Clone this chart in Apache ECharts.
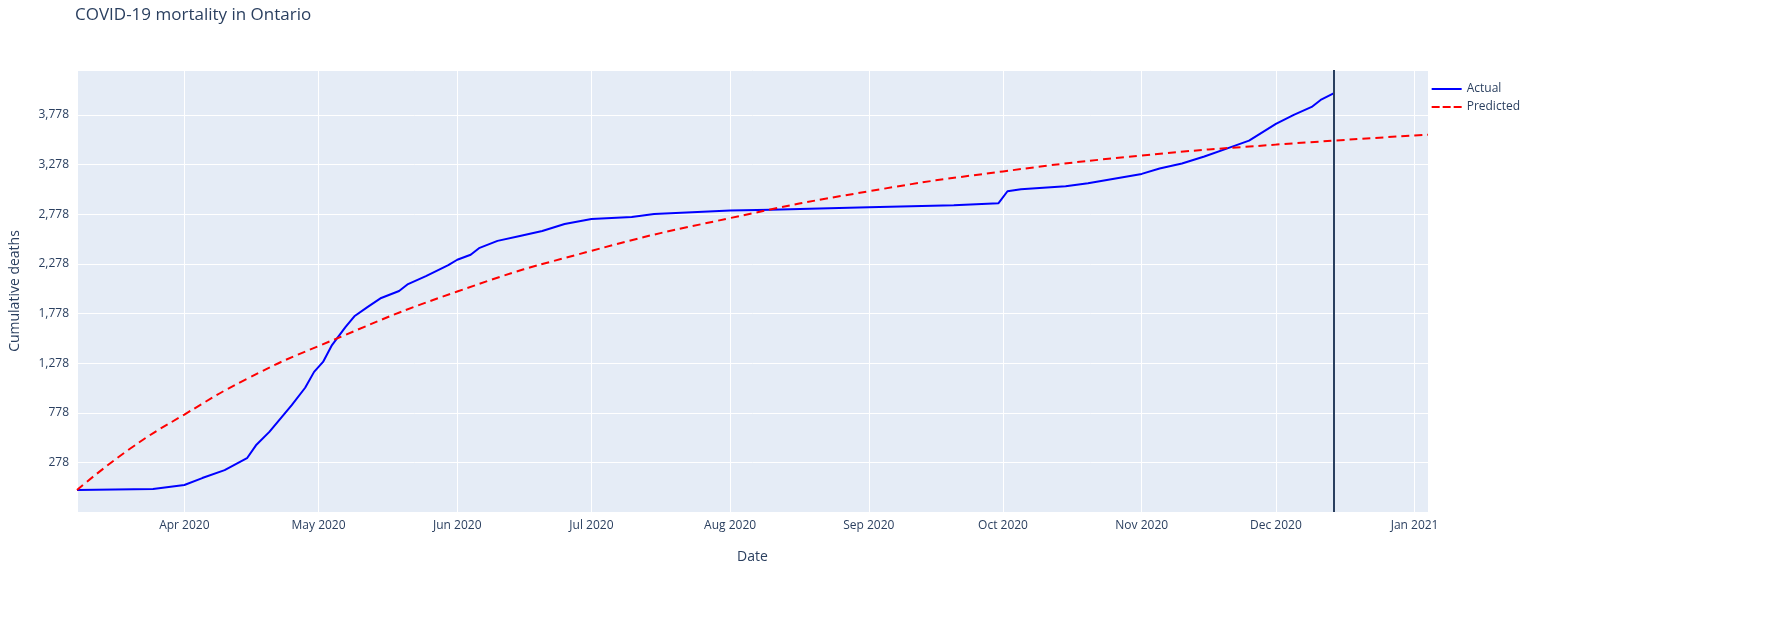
<!DOCTYPE html>
<html><head><meta charset="utf-8">
<script src="https://cdn.jsdelivr.net/npm/echarts@6/dist/echarts.min.js"></script>
<style>html,body{margin:0;padding:0;background:#fff}#c{width:1785px;height:627px}</style>
</head><body><div id="c"></div>
<script>
const actualDates=["2020-03-08","2020-03-25","2020-04-01","2020-04-05","2020-04-10","2020-04-15","2020-04-17","2020-04-20","2020-04-25","2020-04-28","2020-04-30","2020-05-02","2020-05-04","2020-05-07","2020-05-09","2020-05-12","2020-05-15","2020-05-19","2020-05-21","2020-05-25","2020-05-30","2020-06-01","2020-06-04","2020-06-06","2020-06-10","2020-06-15","2020-06-20","2020-06-25","2020-07-01","2020-07-10","2020-07-15","2020-08-01","2020-08-10","2020-09-01","2020-09-20","2020-09-30","2020-10-02","2020-10-05","2020-10-15","2020-10-20","2020-11-01","2020-11-05","2020-11-10","2020-11-15","2020-11-20","2020-11-25","2020-12-01","2020-12-05","2020-12-09","2020-12-11","2020-12-14"];
const actualValues=[0,10,50,120,200,320,450,585,856,1030,1190,1290,1460,1640,1750,1845,1935,2005,2075,2155,2265,2320,2370,2440,2510,2560,2610,2680,2730,2750,2780,2815,2825,2850,2870,2890,3010,3030,3060,3090,3185,3240,3290,3360,3440,3520,3690,3780,3860,3930,4000];
const predDates=["2020-03-08","2020-03-20","2020-04-01","2020-04-15","2020-05-01","2020-06-01","2020-07-01","2020-08-01","2020-09-01","2020-10-01","2020-11-01","2020-12-01","2021-01-04"];
const predValues=[0,420,760,1120,1450,2000,2410,2740,3010,3210,3370,3480,3580];
const cutoffDate="2020-12-14";
const months=["Jan","Feb","Mar","Apr","May","Jun","Jul","Aug","Sep","Oct","Nov","Dec"];
const ts=d=>new Date(d+"T00:00:00").getTime();
const chart=echarts.init(document.getElementById('c'));
const txt='#2a3f5f';
chart.setOption({
  animation:false,
  backgroundColor:'#fff',
  title:{text:'COVID-19 mortality in Ontario',left:70,top:2,textStyle:{fontFamily:'Open Sans',fontSize:17,fontWeight:'normal',color:txt}},
  legend:{orient:'vertical',right:260,top:78,itemWidth:30,itemGap:6,textStyle:{fontFamily:'Open Sans',fontSize:12,color:txt},
    data:[{name:'Actual',icon:'path://M0,0H30V2H0Z'},{name:'Predicted',icon:'path://M0,0H8V2H0ZM11,0H19V2H11ZM22,0H30V2H22Z'}]},
  grid:{left:75,right:357,top:70,bottom:115,backgroundColor:'#e5ecf6',show:true,borderWidth:0},
  xAxis:{type:'time',min:ts('2020-03-08'),max:ts('2021-01-04'),splitNumber:10,name:'Date',nameLocation:'middle',nameGap:38,
    nameTextStyle:{fontFamily:'Open Sans',fontSize:14,color:txt},
    axisLine:{show:false},axisTick:{show:false},
    axisLabel:{fontFamily:'Open Sans',fontSize:12,color:txt,hideOverlap:false,
      formatter:v=>{const d=new Date(v);return d.getDate()===1?months[d.getMonth()]+' '+d.getFullYear():'';}},
    splitLine:{show:true,lineStyle:{color:'#fff',width:1}}},
  yAxis:{type:'value',min:-222,max:4232,interval:500,name:'Cumulative deaths',nameLocation:'middle',nameGap:55,
    nameTextStyle:{fontFamily:'Open Sans',fontSize:14,color:txt},
    axisLine:{show:false},axisTick:{show:false},
    axisLabel:{fontFamily:'Open Sans',fontSize:12,color:txt,showMinLabel:false,showMaxLabel:false},
    splitLine:{lineStyle:{color:'#fff',width:1}}},
  series:[
    {name:'Actual',type:'line',showSymbol:false,color:'#0000ff',lineStyle:{width:2,color:'#0000ff'},
     data:actualDates.map((d,i)=>[ts(d),actualValues[i]]),
     markLine:{silent:true,symbol:'none',label:{show:false},lineStyle:{color:'#2a3f5f',type:'solid',width:2},data:[{xAxis:ts(cutoffDate)}]}},
    {name:'Predicted',type:'line',showSymbol:false,smooth:true,color:'#ff0000',lineStyle:{width:2,type:[8,5],color:'#ff0000'},
     data:predDates.map((d,i)=>[ts(d),predValues[i]])}
  ]
});
</script></body></html>
